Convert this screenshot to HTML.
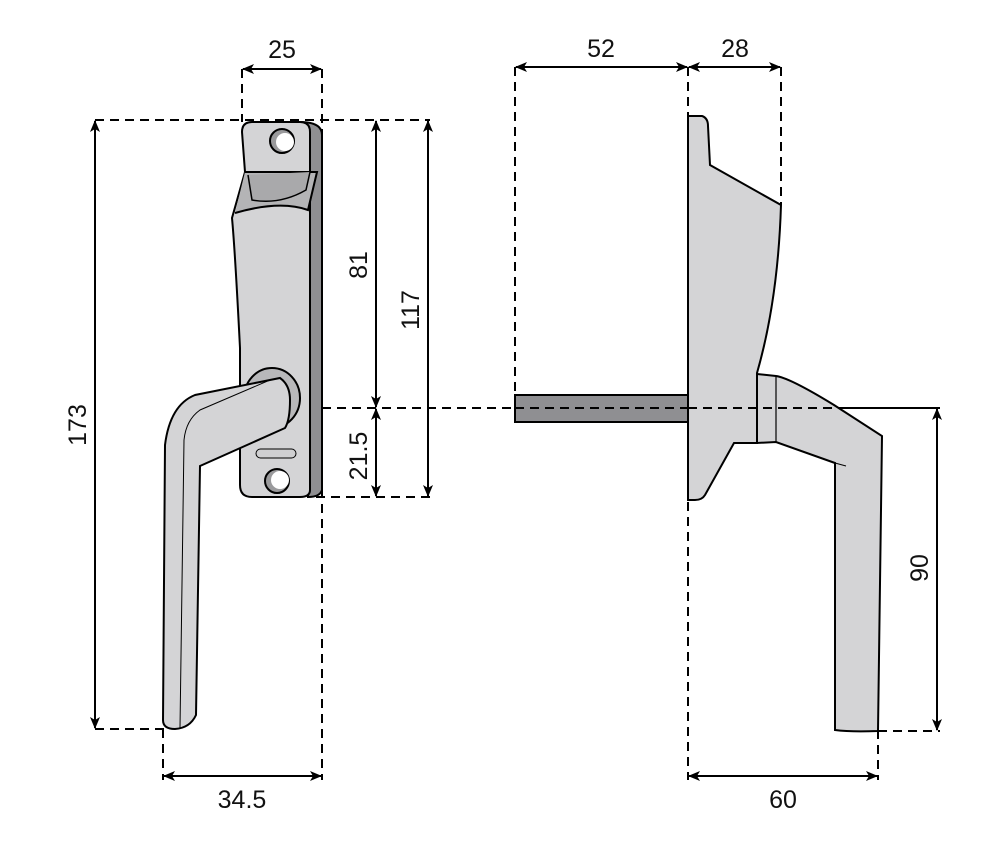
<!DOCTYPE html>
<html><head><meta charset="utf-8"><style>
html,body{margin:0;padding:0;background:#fff}
svg{display:block}
text{font-family:"Liberation Sans",Arial,sans-serif;font-size:25px;fill:#111}
</style></head><body>
<svg width="1000" height="855" viewBox="0 0 1000 855" xmlns="http://www.w3.org/2000/svg">
<defs>
<marker id="a" viewBox="0 0 12 10" refX="11" refY="5" markerWidth="12" markerHeight="10" markerUnits="userSpaceOnUse" orient="auto-start-reverse">
<path d="M0,0 L12,5 L0,10 L3,5 Z" fill="#000"/></marker>
</defs>
<g stroke="#000" stroke-width="2" stroke-dasharray="9,6" fill="none">
<line x1="242" y1="69" x2="242" y2="122"/>
<line x1="322" y1="69" x2="322" y2="780"/>
<line x1="95" y1="120" x2="430" y2="120"/>
<line x1="322" y1="408" x2="940" y2="408"/>
<line x1="316" y1="497" x2="430" y2="497"/>
<line x1="95" y1="729" x2="165" y2="729"/>
<line x1="163" y1="729" x2="163" y2="780"/>
<line x1="515" y1="67" x2="515" y2="395"/>
<line x1="688" y1="67" x2="688" y2="780"/>
<line x1="781" y1="67" x2="781" y2="205"/>
<line x1="878" y1="731" x2="940" y2="731"/>
<line x1="878" y1="700" x2="878" y2="780"/>
</g>
<!-- left plate -->
<path d="M300,122 Q322,122 322,135 L322,490 Q320,497 308,497 Z" fill="#8f8f92" stroke="#000" stroke-width="2"/>
<path d="M252,122 L300,122 Q310,122 310,132 L310,490 Q310,497 300,497 L252,497 Q240,497 240,485 L240,348 Q235,250 232,218 L245,172 L242,132 Q242,122 252,122 Z" fill="#d4d4d6" stroke="#000" stroke-width="2"/>
<path d="M245,172 L317,172 L308,210 Q280,200 235,213" fill="#b4b4b6" stroke="#000" stroke-width="2"/>
<path d="M248,175 L252,200 Q280,205 306,190 L310,172" fill="#a9a9ab" stroke="#000" stroke-width="1.5"/>
<circle cx="282" cy="141" r="12" fill="#9a9a9c" stroke="#000" stroke-width="2"/>
<circle cx="285" cy="142" r="9" fill="#fff"/>
<circle cx="277" cy="481" r="12" fill="#9a9a9c" stroke="#000" stroke-width="2"/>
<circle cx="280" cy="480" r="9" fill="#fff"/>
<rect x="256" y="449" width="40" height="9" rx="4.5" fill="#cfcfd1" stroke="#000" stroke-width="1"/>
<!-- boss -->
<ellipse cx="272" cy="398" rx="28" ry="30" fill="#b8b8ba" stroke="#000" stroke-width="2"/>
<!-- left handle -->
<path d="M280,378 Q290,385 290,400 Q290,420 285,428 L200,466 L196,715 Q190,728 175,729 Q163,729 163,720 L165,445 Q170,405 195,395 Z" fill="#d4d4d6" stroke="#000" stroke-width="2"/>
<path d="M270,380 L200,410 Q186,420 184,440 L180,728" fill="none" stroke="#000" stroke-width="1"/>
<!-- right: spindle -->
<rect x="515" y="395" width="173" height="27" fill="#8f8f92" stroke="#000" stroke-width="2"/>
<line x1="515" y1="408" x2="688" y2="408" stroke="#000" stroke-width="2" stroke-dasharray="9,6"/>
<!-- backplate -->
<path d="M688,116 L702,116 Q708,118 708,126 L710,165 L781,205 Q778,300 757,373 L757,443 L734,443 L705,495 Q702,500 695,500 L688,500 Z" fill="#d4d4d6" stroke="#000" stroke-width="2"/>
<!-- handle side -->
<path d="M757,374 L776,376 Q790,378 834,405 L882,436 L878,731 Q850,732 835,730 L835,463 L776,442 L757,443 Z" fill="#d4d4d6" stroke="#000" stroke-width="2"/>
<line x1="776" y1="376" x2="776" y2="442" stroke="#000" stroke-width="1.2"/>
<line x1="835" y1="463" x2="846" y2="466" stroke="#000" stroke-width="1"/>
<line x1="688" y1="408" x2="940" y2="408" stroke="#000" stroke-width="2" stroke-dasharray="9,6"/>
<!-- dimension lines -->
<g stroke="#000" stroke-width="2" marker-start="url(#a)" marker-end="url(#a)">
<line x1="243" y1="69" x2="321" y2="69"/>
<line x1="95" y1="121" x2="95" y2="728"/>
<line x1="376" y1="121" x2="376" y2="407"/>
<line x1="376" y1="409" x2="376" y2="496"/>
<line x1="428" y1="121" x2="428" y2="496"/>
<line x1="164" y1="776" x2="321" y2="776"/>
<line x1="516" y1="67" x2="687" y2="67"/>
<line x1="689" y1="67" x2="780" y2="67"/>
<line x1="937" y1="409" x2="937" y2="730"/>
<line x1="689" y1="776" x2="877" y2="776"/>
</g>
<text x="282" y="58" text-anchor="middle">25</text>
<text x="601" y="57" text-anchor="middle">52</text>
<text x="735" y="57" text-anchor="middle">28</text>
<text x="242" y="808" text-anchor="middle">34.5</text>
<text x="783" y="808" text-anchor="middle">60</text>
<text transform="translate(86,425) rotate(-90)" text-anchor="middle">173</text>
<text transform="translate(367,265) rotate(-90)" text-anchor="middle">81</text>
<text transform="translate(367,456) rotate(-90)" text-anchor="middle">21.5</text>
<text transform="translate(419,310) rotate(-90)" text-anchor="middle">117</text>
<text transform="translate(928,568) rotate(-90)" text-anchor="middle">90</text>
</svg>
</body></html>
